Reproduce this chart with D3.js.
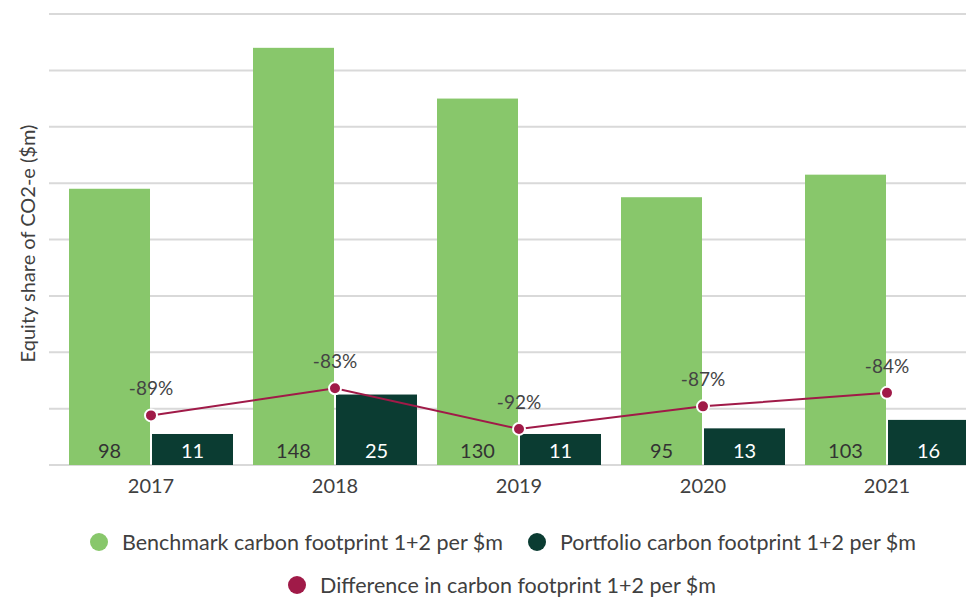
<!DOCTYPE html>
<html>
<head>
<meta charset="utf-8">
<script src="https://cdn.jsdelivr.net/npm/d3@7"></script>
<style>
  body { margin: 0; background: #fff; overflow: hidden; }
  svg { font-family: Lato, "Open Sans", sans-serif; }
</style>
</head>
<body>
<svg id="chart" width="966" height="598"></svg>
<script>
const years = ["2017", "2018", "2019", "2020", "2021"];
const benchmark = [98, 148, 130, 95, 103];
const portfolio = [11, 25, 11, 13, 16];
const difference = [-89, -83, -92, -87, -84];
const yTicks = [0, 20, 40, 60, 80, 100, 120, 140, 160];
const seriesNames = [
    "Benchmark carbon footprint 1+2 per $m",
    "Portfolio carbon footprint 1+2 per $m",
    "Difference in carbon footprint 1+2 per $m",
];
const COLORS = ["#88c76b", "#0b3c32", "#a01a48"];

const svg = d3.select("#chart");
const plotLeft = 49, plotRight = 1000;
const plotTop = 14, plotBottom = 465;

let xScale = d3.scaleBand().domain(years).range([59, 979]).padding(0);
let subScale = d3.scaleBand().domain([0, 1]).range([10, 174]).paddingInner(0.024);
let yScale = d3.scaleLinear().domain([0, 160]).range([plotBottom, plotTop]);
let pctScale = d3.scaleLinear().domain([-100, 0]).range([plotBottom, plotTop]);

// gridlines
svg.append("g")
    .selectAll("line")
    .data(yTicks)
    .enter()
    .append("line")
    .attr("x1", plotLeft)
    .attr("x2", plotRight)
    .attr("y1", (d) => yScale(d))
    .attr("y2", (d) => yScale(d))
    .attr("stroke", "#d9d9d9")
    .attr("stroke-width", 2);

// x axis labels
let xAxis = d3.axisBottom(xScale).tickSize(0).tickPadding(14);
let xg = svg.append("g")
    .attr("transform", `translate(0, ${plotBottom})`)
    .call(xAxis);
xg.select(".domain").remove();
xg.selectAll("text")
    .attr("font-size", 20)
    .attr("fill", "#404040")
    .attr("font-family", "Lato, sans-serif");

// y axis title
svg.append("text")
    .attr("transform", `translate(35, ${(plotTop + plotBottom) / 2 + 4}) rotate(-90)`)
    .attr("text-anchor", "middle")
    .attr("font-size", 20)
    .attr("fill", "#404040")
    .text("Equity share of CO2-e ($m)");

const rows = years.map((y, i) => ({ year: y, vals: [benchmark[i], portfolio[i]], diff: difference[i] }));

const groups = svg.append("g")
    .selectAll("g")
    .data(rows)
    .enter()
    .append("g")
    .attr("transform", (d) => `translate(${xScale(d.year)}, 0)`);

groups.selectAll("rect")
    .data((d) => d.vals)
    .enter()
    .append("rect")
    .attr("x", (d, i) => subScale(i))
    .attr("width", subScale.bandwidth())
    .attr("y", (d) => yScale(d))
    .attr("height", (d) => plotBottom - yScale(d))
    .attr("fill", (d, i) => COLORS[i]);

groups.selectAll("text.val")
    .data((d) => d.vals)
    .enter()
    .append("text")
    .attr("class", "val")
    .attr("x", (d, i) => subScale(i) + subScale.bandwidth() / 2)
    .attr("y", plotBottom - 7)
    .attr("text-anchor", "middle")
    .attr("font-size", 20)
    .attr("fill", (d, i) => (i === 0 ? "#333333" : "#ffffff"))
    .text((d) => d);

// difference line
const cx = (d) => xScale(d.year) + xScale.bandwidth() / 2;
let line = d3.line()
    .x(cx)
    .y((d) => pctScale(d.diff));

svg.append("path")
    .datum(rows)
    .attr("d", line)
    .attr("fill", "none")
    .attr("stroke", COLORS[2])
    .attr("stroke-width", 2);

svg.append("g")
    .selectAll("circle")
    .data(rows)
    .enter()
    .append("circle")
    .attr("cx", cx)
    .attr("cy", (d) => pctScale(d.diff))
    .attr("r", 6)
    .attr("fill", COLORS[2])
    .attr("stroke", "#fff")
    .attr("stroke-width", 2);

svg.append("g")
    .selectAll("text")
    .data(rows)
    .enter()
    .append("text")
    .attr("x", cx)
    .attr("y", (d) => pctScale(d.diff) - 20)
    .attr("text-anchor", "middle")
    .attr("font-size", 19)
    .attr("fill", "#444444")
    .text((d) => d.diff + "%");

// legend
const legendItems = [
    { x: 99, y: 542, i: 0 },
    { x: 537, y: 542, i: 1 },
    { x: 297, y: 585, i: 2 },
];
const legend = svg.append("g")
    .selectAll("g")
    .data(legendItems)
    .enter()
    .append("g")
    .attr("transform", (d) => `translate(${d.x}, ${d.y})`);
legend.append("circle")
    .attr("r", 9)
    .attr("fill", (d) => COLORS[d.i]);
legend.append("text")
    .attr("x", 23)
    .attr("y", 8)
    .attr("font-size", 21.5)
    .attr("fill", "#404040")
    .text((d) => seriesNames[d.i]);
</script>
</body>
</html>
